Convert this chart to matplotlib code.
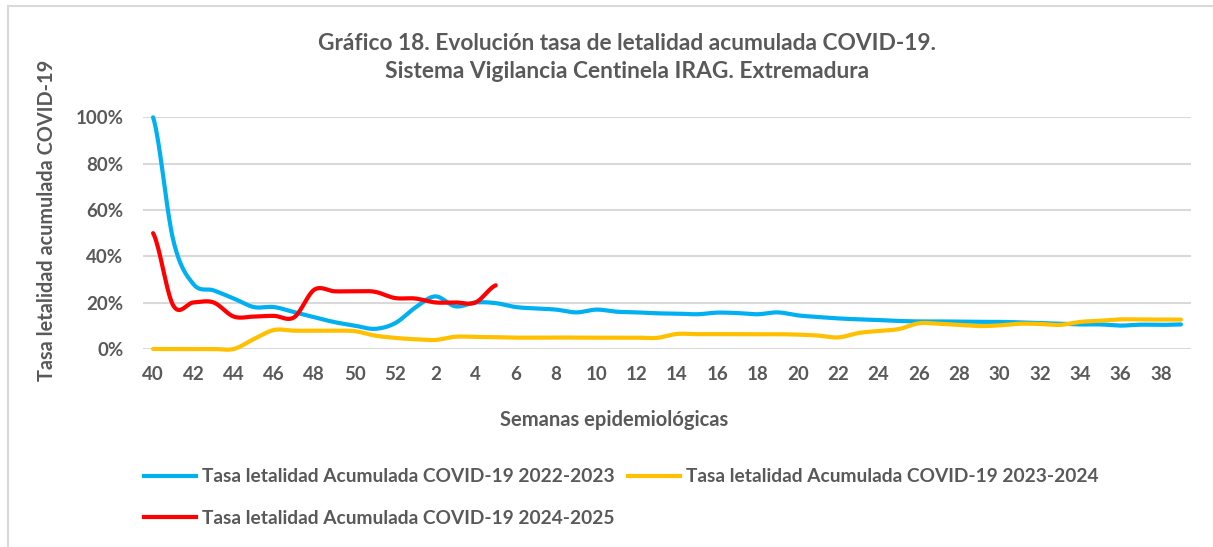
import numpy as np
import matplotlib
matplotlib.use("Agg")
import matplotlib.pyplot as plt
from matplotlib.lines import Line2D

plt.rcParams['font.family'] = ['Lato', 'DejaVu Sans']
plt.rcParams['font.weight'] = 'bold'

# Epidemiological weeks 40..52, then 1..39
weeks = list(range(40, 53)) + list(range(1, 40))

# Cumulative case fatality rate (%) per week
rate_2022_2023 = [100, 47, 28, 25.3, 21.8, 18.1, 18.1, 15.9, 13.7, 11.6, 10.1, 8.7, 11.1,
                  17.8, 22.7, 18.4, 20.1, 19.8, 18.1, 17.5, 17.0, 15.8, 17.0, 16.1, 15.8,
                  15.4, 15.3, 15.0, 15.7, 15.5, 15.0, 15.8, 14.5, 13.8, 13.2, 12.8, 12.5,
                  12.1, 11.9, 11.9, 11.8, 11.7, 11.7, 11.5, 11.2, 10.9, 10.6, 10.6, 10.1,
                  10.5, 10.4, 10.6]
rate_2023_2024 = [0, 0, 0, 0, 0, 4.3, 8.2, 7.9, 7.9, 7.9, 7.7, 5.8, 4.8,
                  4.2, 3.9, 5.3, 5.2, 5.1, 4.9, 4.9, 5.0, 4.9, 4.9, 4.9, 4.9,
                  4.8, 6.5, 6.4, 6.4, 6.4, 6.4, 6.4, 6.2, 5.8, 5.0, 6.9, 7.8,
                  8.6, 11.1, 10.9, 10.4, 9.9, 10.2, 10.9, 10.8, 10.4, 11.7, 12.2, 12.8,
                  12.7, 12.7, 12.7]
rate_2024_2025 = [50, 18.8, 20.1, 20.1, 14, 14, 14.3, 13.7, 25.6, 24.9, 24.9, 24.7, 22.0,
                  21.8, 20.1, 20.1, 20.1, 27.5]

labels = ["Tasa letalidad Acumulada COVID-19 2022-2023",
          "Tasa letalidad Acumulada COVID-19 2023-2024",
          "Tasa letalidad Acumulada COVID-19 2024-2025"]
colors = ["#00B0F0", "#FFC000", "#FF0000"]
text_color = "#595959"


def smooth(y, n=20):
    # Catmull-Rom curve through the points (like Excel's smoothed line)
    y = np.asarray(y, dtype=float)
    p = np.concatenate([[y[0]], y, [y[-1]]])
    xs, ys = [], []
    for i in range(len(y) - 1):
        p0, p1, p2, p3 = p[i], p[i + 1], p[i + 2], p[i + 3]
        t = np.linspace(0, 1, n, endpoint=False)
        c1 = p1 + (p2 - p0) / 6
        c2 = p2 - (p3 - p1) / 6
        yy = (1 - t) ** 3 * p1 + 3 * (1 - t) ** 2 * t * c1 + 3 * (1 - t) * t ** 2 * c2 + t ** 3 * p2
        xs.append(i + t)
        ys.append(yy)
    xs.append([len(y) - 1])
    ys.append([y[-1]])
    return np.concatenate(xs), np.concatenate(ys)


W, H = 1213, 547
fig = plt.figure(figsize=(W / 100, H / 100), dpi=100)
ax = fig.add_axes([143 / W, 1 - 349 / H, (1191 - 143) / W, (349 - 117.3) / H])

for series, c in zip([rate_2022_2023, rate_2023_2024, rate_2024_2025], colors):
    xs, ys = smooth(series)
    ax.plot(xs, ys, color=c, lw=3, solid_capstyle='round', clip_on=False)

ax.set_xlim(-0.5, len(weeks) - 0.5)
ax.set_ylim(0, 100)
ax.set_yticks(np.arange(0, 101, 20))
ax.set_yticklabels([f"{v}%" for v in range(0, 101, 20)])
ax.set_xticks(range(0, len(weeks), 2))
ax.set_xticklabels([str(w) for w in weeks[::2]])
ax.tick_params(length=0, labelsize=13.5, labelcolor=text_color)
ax.tick_params(axis='y', pad=14)
ax.tick_params(axis='x', pad=12)
ax.grid(axis='y', color='#D9D9D9', lw=1.5)
ax.set_axisbelow(True)
for s in ax.spines.values():
    s.set_visible(False)

fig.text(627 / W, 1 - 44 / H, "Gráfico 18. Evolución tasa de letalidad acumulada COVID-19.",
         ha='center', va='center', fontsize=16.4, color=text_color)
fig.text(627 / W, 1 - 72 / H, "Sistema Vigilancia Centinela IRAG. Extremadura",
         ha='center', va='center', fontsize=16.4, color=text_color)
fig.text(47 / W, 1 - 220 / H, "Tasa letalidad acumulada COVID-19", rotation=90,
         ha='center', va='center', fontsize=14.3, color=text_color)
fig.text(614 / W, 1 - 420 / H, "Semanas epidemiológicas",
         ha='center', va='center', fontsize=14.5, color=text_color)

handles = [Line2D([], [], color=colors[0], lw=3),
           Line2D([], [], color=colors[2], lw=3),
           Line2D([], [], color=colors[1], lw=3)]
fig.legend(handles, [labels[0], labels[2], labels[1]], ncol=2, loc='upper left',
           bbox_to_anchor=(127 / W, 1 - 451 / H), frameon=False, fontsize=13.8,
           labelcolor=text_color, handlelength=2.72, handletextpad=0.3,
           columnspacing=0.7, labelspacing=1.28)

# chart area border (partly visible)
fig.add_artist(Line2D([8 / W, 8 / W], [0, 1 - 6 / H], color='#D9D9D9', lw=1.5))
fig.add_artist(Line2D([8 / W, 1], [1 - 6 / H, 1 - 6 / H], color='#D9D9D9', lw=1.5))

fig.savefig("out.png", dpi=100)
